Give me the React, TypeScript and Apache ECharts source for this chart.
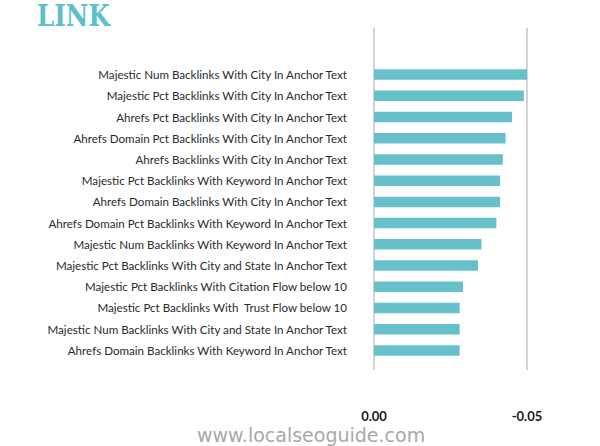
import React, { useEffect, useRef } from 'react';
import * as echarts from 'echarts';

const categories = [
  'Majestic Num Backlinks With City In Anchor Text',
  'Majestic Pct Backlinks With City In Anchor Text',
  'Ahrefs Pct Backlinks With City In Anchor Text',
  'Ahrefs Domain Pct Backlinks With City In Anchor Text',
  'Ahrefs Backlinks With City In Anchor Text',
  'Majestic Pct Backlinks With Keyword In Anchor Text',
  'Ahrefs Domain Backlinks With City In Anchor Text',
  'Ahrefs Domain Pct Backlinks With Keyword In Anchor Text',
  'Majestic Num Backlinks With Keyword In Anchor Text',
  'Majestic Pct Backlinks With City and State In Anchor Text',
  'Majestic Pct Backlinks With Citation Flow below 10',
  'Majestic Pct Backlinks With  Trust Flow below 10',
  'Majestic Num Backlinks With City and State In Anchor Text',
  'Ahrefs Domain Backlinks With Keyword In Anchor Text',
];

const values = [
  -0.05, -0.049, -0.0451, -0.043, -0.0421, -0.0412, -0.0412, -0.04, -0.0351, -0.034, -0.0291,
  -0.028, -0.028, -0.028,
];

const axisMin = -0.05;
const axisMax = 0;
const axisStep = 0.05;

const LinkChart: React.FC = () => {
  const chartRef = useRef<HTMLDivElement>(null);

  useEffect(() => {
    const myChart = echarts.init(chartRef.current!, undefined, { renderer: 'svg' });

    const option = {
      animation: false,
      graphic: [
        {
          type: 'text',
          x: 37,
          y: 1,
          scaleX: 0.85,
          style: {
            text: 'LINK',
            font: 'bold 29px "DejaVu Serif"',
            fill: '#5dbfc8',
          },
        },
        {
          type: 'text',
          left: 197,
          top: 425,
          style: {
            text: 'www.localseoguide.com',
            font: '19px "DejaVu Sans"',
            fill: '#a8a8a8',
          },
        },
      ],
      grid: [
        // outer grid: only the two vertical guide lines and their labels
        { left: 374, right: 73, top: 28, bottom: 76 },
        // inner grid: the bars
        { left: 374, right: 73, top: 64, bottom: 85 },
      ],
      xAxis: [
        {
          type: 'value',
          gridIndex: 0,
          min: axisMin,
          max: axisMax,
          interval: axisStep,
          inverse: true,
          axisLine: { show: false },
          axisTick: { show: false },
          splitLine: { show: true, lineStyle: { color: '#c4c4c4', width: 1.5 } },
          axisLabel: {
            margin: 39,
            fontFamily: 'Lato',
            fontWeight: 'bold',
            fontSize: 13,
            color: '#1a1a1a',
            formatter: (v: number) => v.toFixed(2),
          },
        },
        {
          type: 'value',
          gridIndex: 1,
          min: axisMin,
          max: axisMax,
          inverse: true,
          show: false,
        },
      ],
      yAxis: [
        {
          type: 'value',
          gridIndex: 0,
          show: false,
        },
        {
          type: 'category',
          gridIndex: 1,
          inverse: true,
          data: categories,
          axisLine: { show: false },
          axisTick: { show: false },
          axisLabel: {
            margin: 27,
            fontFamily: 'Lato',
            fontSize: 11.6,
            color: '#2a2a2a',
          },
        },
      ],
      series: [
        {
          type: 'bar',
          xAxisIndex: 1,
          yAxisIndex: 1,
          data: values,
          barWidth: 10.5,
          itemStyle: { color: '#66c1cb' },
        },
      ],
    };

    myChart.setOption(option);

    return () => {
      myChart.dispose();
    };
  }, []);

  return (
    <div
      ref={chartRef}
      style={{ position: 'fixed', left: 0, top: 0, width: '600px', height: '446px', background: '#fff' }}
    />
  );
};

export default function App() {
  return <LinkChart />;
}
